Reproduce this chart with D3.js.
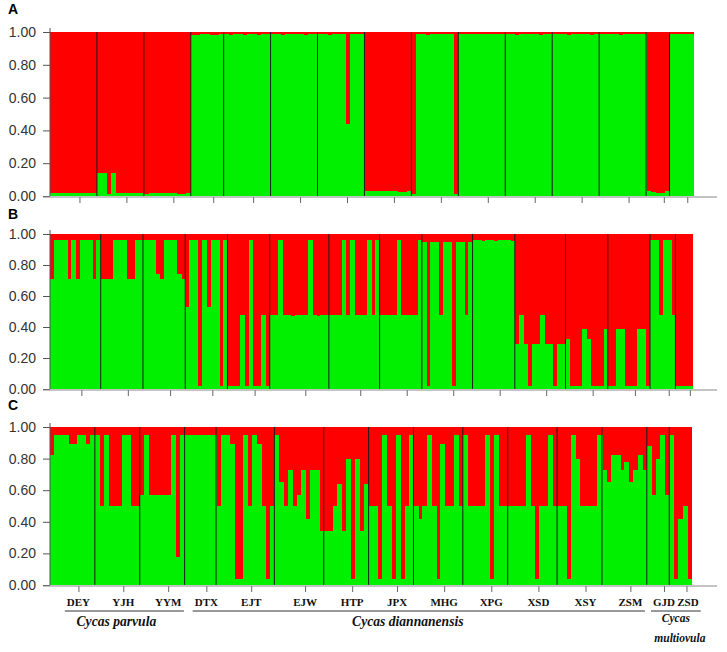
<!DOCTYPE html>
<html>
<head>
<meta charset="utf-8">
<script src="https://cdn.jsdelivr.net/npm/d3@7"></script>
<style>
  body { margin: 0; background: #ffffff; }
  svg { display: block; }
</style>
</head>
<body>
<svg id="chart" width="727" height="652"></svg>
<script>
// ---------------- DATA ----------------
const populations = ["DEY","YJH","YYM","DTX","EJT","EJW","HTP","JPX","MHG","XPG","XSD","XSY","ZSM","GJD","ZSD"];
const panelLabels = ["A","B","C"];
const yTickValues = [0, 0.2, 0.4, 0.6, 0.8, 1.0];

// individuals per population, per panel
const countsA = [10,10,10,7,10,10,10,10,10,10,10,10,10,5,5];
const countsB = [12,10,10,10,10,14,12,10,12,10,12,10,10,6,4];
const countsC = [10,10,10,7,13,11,10,10,11,10,11,10,10,5,5];

// membership in the green cluster (red = 1 - green), per individual, grouped by population
const greenA = [
  [0.02,0.02,0.02,0.02,0.02,0.02,0.02,0.02,0.02,0.02],
  [0.14,0.14,0.01,0.14,0.02,0.02,0.02,0.02,0.02,0.02],
  [0.01,0.02,0.02,0.02,0.02,0.02,0.02,0.01,0.01,0.02],
  [0.98,0.98,0.985,0.985,0.98,0.98,0.985],
  [0.985,0.98,0.985,0.985,0.98,0.985,0.985,0.98,0.985,0.985],
  [0.985,0.985,0.98,0.985,0.985,0.985,0.985,0.98,0.985,0.985],
  [0.985,0.985,0.98,0.985,0.985,0.985,0.44,0.985,0.985,0.985],
  [0.03,0.03,0.03,0.03,0.03,0.03,0.03,0.025,0.025,0.03],
  [0.01,0.985,0.985,0.98,0.985,0.985,0.985,0.985,0.985,0.01],
  [0.985,0.985,0.985,0.985,0.985,0.985,0.985,0.985,0.985,0.985],
  [0.985,0.985,0.98,0.985,0.985,0.985,0.985,0.98,0.985,0.985],
  [0.985,0.985,0.985,0.98,0.985,0.985,0.985,0.985,0.98,0.985],
  [0.985,0.985,0.985,0.985,0.98,0.985,0.985,0.985,0.985,0.985],
  [0.03,0.025,0.02,0.02,0.03],
  [0.985,0.985,0.985,0.985,0.985]
];
const greenB = [
  [0.71,0.96,0.96,0.96,0.71,0.96,0.71,0.96,0.96,0.96,0.71,0.96],
  [0.71,0.71,0.71,0.96,0.96,0.96,0.71,0.71,0.96,0.96],
  [0.96,0.96,0.96,0.74,0.71,0.96,0.96,0.96,0.74,0.71],
  [0.53,0.96,0.96,0.02,0.96,0.53,0.96,0.96,0.02,0.96],
  [0.02,0.02,0.02,0.48,0.02,0.96,0.02,0.02,0.48,0.02],
  [0.48,0.48,0.96,0.48,0.48,0.47,0.48,0.48,0.48,0.96,0.48,0.47,0.48,0.48],
  [0.48,0.48,0.48,0.96,0.48,0.96,0.48,0.48,0.48,0.96,0.48,0.96],
  [0.48,0.48,0.48,0.48,0.96,0.48,0.48,0.48,0.48,0.96],
  [0.95,0.02,0.95,0.95,0.48,0.95,0.95,0.02,0.95,0.95,0.48,0.95],
  [0.96,0.96,0.955,0.96,0.96,0.955,0.96,0.96,0.96,0.955],
  [0.29,0.48,0.29,0.02,0.29,0.29,0.48,0.29,0.29,0.02,0.29,0.29],
  [0.32,0.02,0.02,0.02,0.39,0.32,0.02,0.02,0.02,0.39],
  [0.02,0.02,0.39,0.39,0.02,0.02,0.02,0.39,0.39,0.02],
  [0.96,0.96,0.48,0.96,0.96,0.48],
  [0.02,0.02,0.02,0.02]
];
const greenC = [
  [0.82,0.95,0.95,0.95,0.89,0.89,0.95,0.95,0.89,0.95],
  [0.95,0.50,0.95,0.50,0.50,0.50,0.95,0.95,0.50,0.50],
  [0.57,0.95,0.57,0.57,0.57,0.57,0.57,0.95,0.18,0.95],
  [0.95,0.95,0.95,0.95,0.95,0.95,0.95],
  [0.50,0.95,0.95,0.89,0.04,0.04,0.95,0.50,0.95,0.89,0.50,0.04,0.50],
  [0.95,0.65,0.50,0.73,0.50,0.57,0.73,0.42,0.73,0.73,0.34],
  [0.34,0.34,0.50,0.64,0.34,0.80,0.04,0.80,0.34,0.64],
  [0.50,0.50,0.04,0.95,0.50,0.04,0.95,0.04,0.50,0.95],
  [0.50,0.42,0.50,0.95,0.50,0.04,0.89,0.50,0.50,0.95,0.50],
  [0.95,0.50,0.50,0.50,0.50,0.95,0.04,0.95,0.50,0.50],
  [0.50,0.50,0.50,0.50,0.95,0.50,0.04,0.50,0.50,0.95,0.50],
  [0.50,0.50,0.04,0.95,0.80,0.50,0.50,0.50,0.50,0.95],
  [0.73,0.65,0.82,0.82,0.73,0.78,0.65,0.73,0.82,0.73],
  [0.88,0.57,0.80,0.95,0.57],
  [0.95,0.04,0.42,0.50,0.04]
];

const speciesNames = ["Cycas parvula", "Cycas diannanensis", "Cycas multiovula"];
const speciesFirstPop = [0, 3, 13];
const speciesLastPop  = [2, 12, 14];

// ---------------- LAYOUT ----------------
const RED = "#ff0000", GREEN = "#00f000";
const left = 50;
const layout = [
  { top: 32,  bottom: 196, right: 693.0, labelY: 14 },
  { top: 234, bottom: 389, right: 692.3, labelY: 219 },
  { top: 427, bottom: 585, right: 691.7, labelY: 410 }
];
const panelData = [greenA, greenB, greenC];
const panelCounts = [countsA, countsB, countsC];

const svg = d3.select("#chart");
let lastTickX = null;

panelData.forEach((groups, p) => {
  const L = layout[p];
  const counts = panelCounts[p];
  const flat = [];
  groups.forEach((g, gi) => g.forEach(v => flat.push({ pop: populations[gi], v })));
  const N = flat.length;

  const x = d3.scaleBand().domain(d3.range(N)).range([left, L.right]).paddingInner(0).paddingOuter(0);
  const y = d3.scaleLinear().domain([0, 1]).range([L.bottom, L.top]);
  const g = svg.append("g");

  // red (top cluster) per individual
  g.append("g").attr("shape-rendering", "crispEdges")
    .selectAll("rect").data(flat).join("rect")
    .attr("x", (d, i) => x(i)).attr("width", x.bandwidth() + 0.6)
    .attr("y", y(1)).attr("height", y(0) - y(1))
    .attr("fill", RED);
  // green (bottom cluster)
  g.append("g").attr("shape-rendering", "crispEdges")
    .selectAll("rect").data(flat).join("rect")
    .attr("x", (d, i) => x(i)).attr("width", x.bandwidth() + 0.6)
    .attr("y", d => y(d.v)).attr("height", d => y(0) - y(d.v))
    .attr("fill", GREEN);

  // population starts
  const starts = [];
  let acc = 0;
  counts.forEach(c => { starts.push(acc); acc += c; });

  // separators
  g.append("g").selectAll("line").data(starts.slice(1)).join("line")
    .attr("x1", s => x(s)).attr("x2", s => x(s))
    .attr("y1", y(1)).attr("y2", y(0))
    .attr("stroke", "#1c1c1c").attr("stroke-width", 1);

  // y axis
  const yAxis = d3.axisLeft(y).tickValues(yTickValues).tickFormat(d3.format(".2f")).tickSize(7).tickPadding(7);
  const ya = g.append("g").attr("transform", `translate(${left},0)`).call(yAxis);
  ya.select(".domain").remove();
  ya.selectAll(".tick line").attr("stroke", "#555");
  ya.selectAll(".tick text").attr("font-family", "Liberation Sans, Arial, sans-serif")
    .attr("font-size", 14).attr("fill", "#333");
  g.append("line").attr("x1", left).attr("x2", left).attr("y1", y(1) - 4).attr("y2", y(0))
    .attr("stroke", "#555").attr("stroke-width", 1);

  // x axis with population ticks
  const tickX = counts.map((c, i) => x(starts[i]) + c * x.bandwidth() / 2 + 6);
  const tickScale = d3.scaleOrdinal().domain(populations).range(tickX);
  const xAxis = d3.axisBottom(tickScale).tickSize(6).tickFormat("");
  const xa = g.append("g").attr("transform", `translate(0,${L.bottom + 1})`).call(xAxis);
  xa.select(".domain").remove();
  xa.selectAll(".tick line").attr("stroke", "#666");
  g.append("line").attr("x1", 43).attr("x2", 717).attr("y1", L.bottom + 1).attr("y2", L.bottom + 1)
    .attr("stroke", "#888").attr("stroke-width", 1.2);

  // panel label
  svg.append("text").attr("x", 8).attr("y", L.labelY)
    .attr("font-family", "Liberation Sans, Arial, sans-serif").attr("font-weight", "bold")
    .attr("font-size", 14).attr("fill", "#000").text(panelLabels[p]);

  if (p === 2) lastTickX = { tickX, bottom: L.bottom };
});

// population labels under the last panel
const labelY = lastTickX.bottom + 21;
const popText = svg.append("g").selectAll("text").data(populations).join("text")
  .attr("x", (d, i) => lastTickX.tickX[i] + (i === populations.length - 1 ? 1.5 : 0)).attr("y", labelY)
  .attr("text-anchor", "middle")
  .attr("font-family", "Liberation Serif, Times New Roman, serif")
  .attr("font-weight", "bold").attr("font-size", 11).attr("fill", "#111")
  .text(d => d);

const boxes = popText.nodes().map(n => n.getBBox());
const specDx = [-8, -11, 0];
speciesNames.forEach((name, s) => {
  const b0 = boxes[speciesFirstPop[s]], b1 = boxes[speciesLastPop[s]];
  const x0 = b0.x - 2, x1 = b1.x + b1.width + 2;
  svg.append("line").attr("x1", x0).attr("x2", x1).attr("y1", 611).attr("y2", 611)
    .attr("stroke", "#333").attr("stroke-width", 1);
  const cx = (x0 + x1) / 2 + specDx[s];
  if (s < 2) {
    svg.append("text").attr("x", cx).attr("y", 626).attr("text-anchor", "middle")
      .attr("font-family", "Liberation Serif, Times New Roman, serif")
      .attr("font-weight", "bold").attr("font-style", "italic").attr("font-size", 13.6)
      .attr("fill", "#111").text(name);
  } else {
    const parts = name.split(" ");
    svg.append("text").attr("x", cx).attr("y", 622).attr("text-anchor", "middle")
      .attr("font-family", "Liberation Serif, Times New Roman, serif")
      .attr("font-weight", "bold").attr("font-style", "italic").attr("font-size", 11.5)
      .attr("fill", "#111").text(parts[0]);
    svg.append("text").attr("x", cx + 4).attr("y", 642).attr("text-anchor", "middle")
      .attr("font-family", "Liberation Serif, Times New Roman, serif")
      .attr("font-weight", "bold").attr("font-style", "italic").attr("font-size", 11.5)
      .attr("fill", "#111").text(parts[1]);
  }
});
</script>
</body>
</html>
